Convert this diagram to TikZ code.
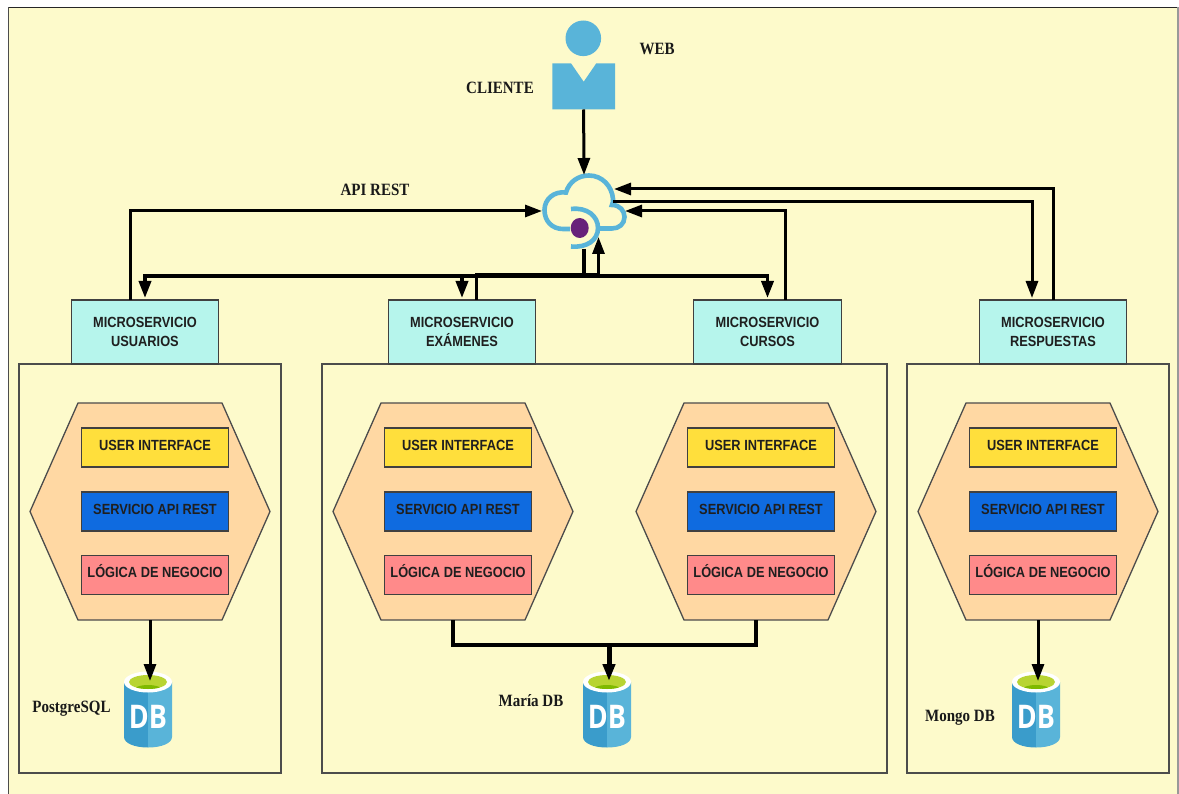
\documentclass[tikz,border=0pt]{standalone}
\usepackage{fontspec}
\usepackage{graphicx}
\setmainfont{Liberation Serif}
\setsansfont{Liberation Sans}
\newfontfamily\dbfont{Open Sans}
\usetikzlibrary{arrows.meta}
\newcommand{\tallt}[1]{\scalebox{1}[1.15]{#1}}
\definecolor{bgyellow}{HTML}{FDFACB}
\definecolor{teal}{HTML}{B6F5EC}
\definecolor{hexfill}{HTML}{FFD8A3}
\definecolor{uiyellow}{HTML}{FFDF3C}
\definecolor{apiblue}{HTML}{0F6BE0}
\definecolor{logicred}{HTML}{FF8A8A}
\definecolor{azure}{HTML}{59B4D9}
\definecolor{azuredark}{HTML}{3A9CCB}
\definecolor{greenlight}{HTML}{B8D432}
\definecolor{greendark}{HTML}{7FBA00}
\definecolor{purpledot}{HTML}{68217A}
\tikzset{
  x=1pt,y=-1pt,
  every node/.style={inner sep=0pt,outer sep=0pt},
  box/.style={draw=black!75,line width=1.2pt,minimum width=146.5pt,minimum height=39pt,
     text height=10.8pt,text depth=5pt,
     font=\sffamily\bfseries\fontsize{12.8}{15}\selectfont,text=black!88},
  msbox/.style={draw=black!75,line width=1.1pt,fill=teal,minimum width=147.5pt,minimum height=64pt,align=center,
     font=\sffamily\bfseries\fontsize{12.8}{19}\selectfont,text=black!88},
  container/.style={draw=black!70,line width=1.3pt},
  hexa/.style={draw=black!70,line width=1.3pt,fill=hexfill},
  lab/.style={font=\rmfamily\bfseries\fontsize{15}{18}\selectfont,text=black!90},
  conn/.style={line width=3pt,draw=black,-{Triangle[length=17pt,width=12pt]}},
  bus/.style={line width=4pt,draw=black},
  cloudline/.style={line width=4.6pt,draw=azure,line cap=butt},
}
% hexagon with three boxes; #1 = name prefix, #2 = x offset
\newcommand{\HexStack}[2]{%
  \begin{scope}[xshift=#2pt,name prefix=#1-]
    \draw[hexa] (30,511.5) -- (78,403) -- (222,403) -- (270,511.5) -- (222,620) -- (78,620) -- cycle;
    \coordinate (bottom) at (150,620);
    \node[box,fill=uiyellow] (ui) at (155,447.5) {\tallt{USER INTERFACE}};
    \node[box,fill=apiblue] (api) at (155,511.5) {\tallt{SERVICIO API REST}};
    \node[box,fill=logicred] (logic) at (155,575) {\tallt{LÓGICA DE NEGOCIO}};
  \end{scope}}
% database icon; #1 = name, #2 = centre x
\newcommand{\DbIcon}[2]{%
  \begin{scope}[xshift=#2pt]
    \fill[azuredark] (-24,682) -- (0,682) -- (0,747.5) .. controls (-14,747.5) and (-24,743) .. (-24,737) -- cycle;
    \fill[azure] (24,682) -- (0,682) -- (0,747.5) .. controls (14,747.5) and (24,743) .. (24,737) -- cycle;
    \fill[white] (0,682) ellipse [x radius=24,y radius=10.5];
    \fill[greenlight] (0,682) ellipse [x radius=19,y radius=7];
    \begin{scope}
      \clip (0,682) ellipse [x radius=19,y radius=7];
      \fill[greendark] (0,691) ellipse [x radius=15,y radius=6];
    \end{scope}
    \node[font=\dbfont\bfseries\fontsize{31}{31}\selectfont,text=white] (#1) at (0,716.5) {\scalebox{.87}[1.05]{DB}};
    \coordinate (#1-in) at (0,681);
  \end{scope}}
\begin{document}
\begin{tikzpicture}
\useasboundingbox (0,0) rectangle (1179,794);
\fill[white] (0,0) rectangle (1179,794);
\fill[bgyellow] (8.5,7.5) rectangle (1178,794);
\draw[black!70,line width=1.2pt] (8.5,794) -- (8.5,7.5);
\draw[black!85,line width=1.2pt] (8.5,7.5) -- (1178,7.5);
\draw[black!40,line width=1.2pt] (1178,7.5) -- (1178,794);

% containers
\draw[container] (19,364) rectangle (281,773);
\draw[container] (322,364) rectangle (887,773);
\draw[container] (907,364) rectangle (1169,773);

% microservices
\node[msbox] (usuarios) at (145,332) {\tallt{MICROSERVICIO}\\\tallt{USUARIOS}};
\node[msbox] (examenes) at (462,332) {\tallt{MICROSERVICIO}\\\tallt{EXÁMENES}};
\node[msbox] (cursos) at (767.5,332) {\tallt{MICROSERVICIO}\\\tallt{CURSOS}};
\node[msbox] (respuestas) at (1053,332) {\tallt{MICROSERVICIO}\\\tallt{RESPUESTAS}};

% hexagons
\HexStack{a}{0}
\HexStack{b}{303}
\HexStack{c}{606}
\HexStack{d}{888}

% databases
\DbIcon{dba}{148}
\DbIcon{dbb}{607}
\DbIcon{dbc}{1036}

% client
\fill[azure] (583.3,38.3) circle [radius=17.8];
\fill[azure] (552.3,63.3) -- (571,63.3) -- (583.7,81.7) -- (596.3,63.3) -- (615,63.3) -- (615,109.5) -- (552.3,109.5) -- cycle;
\node[minimum width=63pt,minimum height=46pt] (cliente) at (583.6,86.5) {};

% cloud
\draw[cloudline] (570,229) -- (563,229)
  .. controls (552,229) and (544.5,221) .. (544.5,210)
  .. controls (544.5,199) and (554,191) .. (566,192.5)
  .. controls (569,182) and (578,175.5) .. (589,175.5)
  .. controls (602,175.5) and (612,186) .. (613,199)
  .. controls (613,202) and (613,203) .. (612,205)
  .. controls (620,205) and (624.5,211) .. (624.5,217)
  .. controls (624.5,224) and (619,228.5) .. (612,228.5) -- (598,228.5);
\draw[azure,line width=4.6pt] (571,209) .. controls (587,207) and (598,216) .. (598,228)
  .. controls (598,240) and (587,248) .. (571,246.5);
\fill[purpledot] (579.7,228) ellipse [x radius=9,y radius=10];
\node[minimum width=84pt,minimum height=74pt] (cloud) at (584,212) {};

% labels
\node[lab] (lweb) at (657,49) {\tallt{WEB}};
\node[lab] (lcli) at (500,88) {\tallt{CLIENTE}};
\node[lab] (lapi) at (375,190) {\tallt{API REST}};
\node[lab] (lpg) at (71.5,709) {\tallt{PostgreSQL}};
\node[lab] (lmaria) at (531,700.5) {\tallt{María DB}};
\node[lab] (lmongo) at (960,718) {\tallt{Mongo DB}};

% client -> cloud
\draw[conn] (cliente.south) -- (cloud.north);

% usuarios -> cloud
\draw[conn] ([xshift=-15pt]usuarios.north) -- ++(0,-89) -- (cloud.west |- 0,211);

% cloud bus
\draw[bus] (cloud.south) ++(-0.5,0) -- ++(0,27) coordinate (busmid);
\draw[conn,line width=3.5pt] (busmid) -- (usuarios.north |- busmid) -- ([yshift=2pt]usuarios.north);
\draw[conn,line width=3.5pt] (busmid) -- (examenes.north |- busmid) -- ([yshift=2pt]examenes.north);
\draw[conn,line width=3.5pt] (busmid) -- (cursos.north |- busmid) -- ([yshift=2pt]cursos.north);

% examenes -> cloud
\draw[conn] ([xshift=14pt]examenes.north) -- ++(0,-25) -| ([xshift=14.5pt,yshift=12pt]cloud.south);

% cursos -> cloud
\draw[conn] ([xshift=17.5pt]cursos.north) -- ++(0,-89) -- ([xshift=-1pt]cloud.east |- 0,211);

% respuestas -> cloud
\draw[conn] (respuestas.north) -- ++(0,-111) -- ([xshift=-12pt]cloud.east |- 0,189);

% cloud -> respuestas
\draw[conn] ([xshift=-13pt]cloud.east |- 0,202) -| ([xshift=-21pt,yshift=2pt]respuestas.north);

% hexagons -> databases
\draw[conn] (a-bottom) -- (150,620 |- dba-in);
\draw[conn] (d-bottom) -- (1038,620 |- dbc-in);
\draw[line width=3.2pt] (b-bottom) -- ++(0,25) coordinate (ml) -- (c-bottom |- ml) -- (c-bottom);
\draw[conn,line width=5pt] (609,645) -- (609,620 |- dbb-in);
\end{tikzpicture}
\end{document}
